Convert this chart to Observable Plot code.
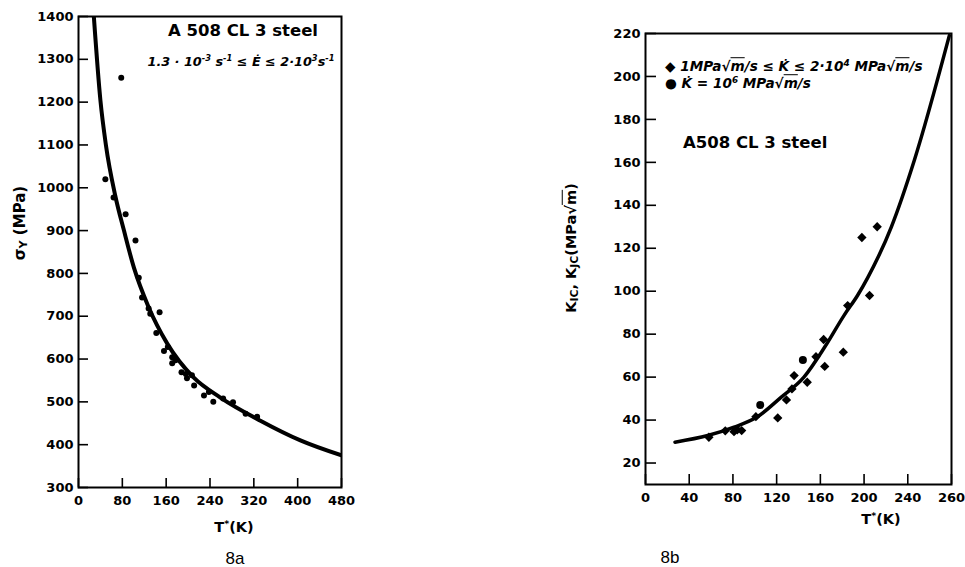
<!DOCTYPE html>
<html><head><meta charset="utf-8">
<script src="https://cdn.jsdelivr.net/npm/d3@7"></script>
<script src="https://cdn.jsdelivr.net/npm/@observablehq/plot@0.6"></script>
<style>
html,body{margin:0;padding:0;background:#fff;}
body{width:965px;height:567px;position:relative;overflow:hidden;font-family:"DejaVu Sans",sans-serif;color:#000;}
#a,#b{position:absolute;top:0;}
#a{left:0;} #b{left:480px;}
.t{position:absolute;white-space:nowrap;font-weight:bold;transform:translate(-50%,-50%);line-height:1;}
.l{position:absolute;white-space:nowrap;font-weight:bold;transform:translate(0,-50%);line-height:1;}
.it{font-style:italic;}
.ov{text-decoration:overline;}
sup{font-size:0.65em;vertical-align:0.55em;line-height:0;}
sub{font-size:0.75em;vertical-align:-0.2em;line-height:0;}
.rot{transform:translate(-50%,-50%) rotate(-90deg);}
.fig{font-family:"Liberation Sans",sans-serif;font-weight:normal;font-size:17px;}
</style></head><body>
<div id="a"></div><div id="b"></div>

<div class="t" style="left:243px;top:31px;font-size:16.5px;">A 508 CL 3 steel</div>
<div class="t it" style="left:241px;top:62px;font-size:12.8px;">1.3 · 10<sup>-3</sup> s<sup>-1</sup> ≤ Ė ≤ 2·10<sup>3</sup>s<sup>-1</sup></div>
<div class="t rot" style="left:20px;top:223px;font-size:15px;">σ<sub>Y</sub> (MPa)</div>
<div class="t" style="left:234px;top:527px;font-size:14.5px;">T<sup>*</sup>(K)</div>
<div class="t fig" style="left:235px;top:558px;">8a</div>

<div class="l it" style="left:665px;top:67px;font-size:13.6px;">◆ 1MPa√<span class="ov">m</span>/s ≤ K̇ ≤ 2·10<sup>4</sup> MPa√<span class="ov">m</span>/s</div>
<div class="l it" style="left:665px;top:84px;font-size:13.6px;">● K̇ = 10<sup>6</sup> MPa√<span class="ov">m</span>/s</div>
<div class="l" style="left:683px;top:143px;font-size:16.5px;">A508 CL 3 steel</div>
<div class="t rot" style="left:571px;top:248px;font-size:14.5px;">K<sub>IC</sub>, K<sub>JC</sub>(MPa√<span class="ov">m</span>)</div>
<div class="t" style="left:881px;top:519px;font-size:14.5px;">T<sup>*</sup>(K)</div>
<div class="t fig" style="left:670px;top:557px;">8b</div>

<script>
// ---- Fig 8a data ----
const leftTicksX = [0, 80, 160, 240, 320, 400, 480];
const leftTicksXLabels = ["0", "80", "160", "240", "320", "400", "480"];
const leftTicksY = [300, 400, 500, 600, 700, 800, 900, 1000, 1100, 1200, 1300, 1400];
const leftT =     [49, 64, 78, 86, 104, 110, 116, 128, 131, 148, 142, 156, 163, 171, 171, 177, 188, 196, 198, 207, 211, 229, 238, 246, 264, 282, 305, 326];
const leftSigma = [1020, 977, 1257, 938, 877, 790, 744, 718, 706, 709, 661, 619, 628, 604, 590, 597, 569, 565, 555, 562, 538, 515, 523, 500, 508, 499, 472, 465];
const leftCurveT =     [28, 40, 50, 67, 83, 101, 128, 162, 210, 259, 332, 405, 480];
const leftCurveSigma = [1400, 1204, 1100, 982, 900, 814, 721, 636, 557, 510, 456, 410, 375];

// ---- Fig 8b data ----
const rightTicksX = [0, 40, 80, 120, 160, 200, 240, 280];
const rightTicksXLabels = ["0", "40", "80", "120", "160", "200", "240", "260"];
const rightTicksY = [20, 40, 60, 80, 100, 120, 140, 160, 180, 200, 220];
const diamondT = [58, 73, 81, 84, 88, 101, 121, 129, 134, 136, 148, 156, 163, 164, 181, 185, 198, 205, 212];
const diamondK = [32, 35, 34.6, 35.5, 35.1, 41.6, 41, 49.4, 54.5, 60.7, 57.6, 69.5, 77.5, 65, 71.6, 93.3, 125, 98, 130];
const circleT = [105, 144];
const circleK = [47, 68];
const rightCurveT = [27, 57, 81, 102, 124, 145, 164, 182, 194, 203, 225, 246, 278];
const rightCurveK = [29.7, 32.8, 36.7, 41.4, 50.6, 60, 74, 89, 98, 106, 130, 161, 219];

const zip = (xs, ys) => xs.map((x, i) => ({x, y: ys[i]}));
const font = {fontFamily: "DejaVu Sans", fontSize: "13px", fontWeight: "bold", overflow: "visible", background: "transparent"};

const lw = 480, lh = 540, lml = 78, lmr = 139, lmt = 16, lmb = 53;
const left = Plot.plot({
  width: lw, height: lh, marginLeft: lml, marginRight: lmr, marginTop: lmt, marginBottom: lmb,
  x: {domain: [0, 480]}, y: {domain: [300, 1400]},
  style: font,
  marks: [
    Plot.axisX({ticks: leftTicksX, tickFormat: d => leftTicksXLabels[leftTicksX.indexOf(d)], tickSize: 0, tickPadding: 8, label: null, fontWeight: "bold"}),
    Plot.axisY({ticks: leftTicksY, tickFormat: d => String(d), tickSize: 0, tickPadding: 5, label: null, fontWeight: "bold"}),
    Plot.tickX(leftTicksX, {x: d => d, insetTop: (lh - lmt - lmb) - 9, strokeWidth: 1.6}),
    Plot.tickY(leftTicksY, {y: d => d, insetRight: (lw - lml - lmr) - 10, strokeWidth: 1.6}),
    Plot.line(zip(leftCurveT, leftCurveSigma), {x: "x", y: "y", curve: "monotone-x", strokeWidth: 4, clip: true}),
    Plot.dot(zip(leftT, leftSigma), {x: "x", y: "y", r: 3, fill: "black"}),
    Plot.frame({strokeWidth: 2})
  ]
});
document.getElementById("a").appendChild(left);

const rw = 485, rh = 540, rml = 165, rmr = 14, rmt = 33, rmb = 56;
const right = Plot.plot({
  width: rw, height: rh, marginLeft: rml, marginRight: rmr, marginTop: rmt, marginBottom: rmb,
  x: {domain: [0, 280]}, y: {domain: [10, 220]},
  style: font,
  marks: [
    Plot.axisX({ticks: rightTicksX, tickFormat: d => rightTicksXLabels[rightTicksX.indexOf(d)], tickSize: 0, tickPadding: 8, label: null, fontWeight: "bold"}),
    Plot.axisY({ticks: rightTicksY, tickFormat: d => String(d), tickSize: 0, tickPadding: 5, label: null, fontWeight: "bold"}),
    Plot.tickX(rightTicksX, {x: d => d, insetTop: (rh - rmt - rmb) - 10, strokeWidth: 1.6}),
    Plot.tickY(rightTicksY, {y: d => d, insetRight: (rw - rml - rmr) - 11, strokeWidth: 1.6}),
    Plot.line(zip(rightCurveT, rightCurveK), {x: "x", y: "y", curve: "monotone-x", strokeWidth: 3.5, clip: true}),
    Plot.dot(zip(diamondT, diamondK), {x: "x", y: "y", r: 4.2, symbol: "diamond2", fill: "black", stroke: "none"}),
    Plot.dot(zip(circleT, circleK), {x: "x", y: "y", r: 4, fill: "black"}),
    Plot.frame({strokeWidth: 2})
  ]
});
document.getElementById("b").appendChild(right);
</script>
</body></html>
